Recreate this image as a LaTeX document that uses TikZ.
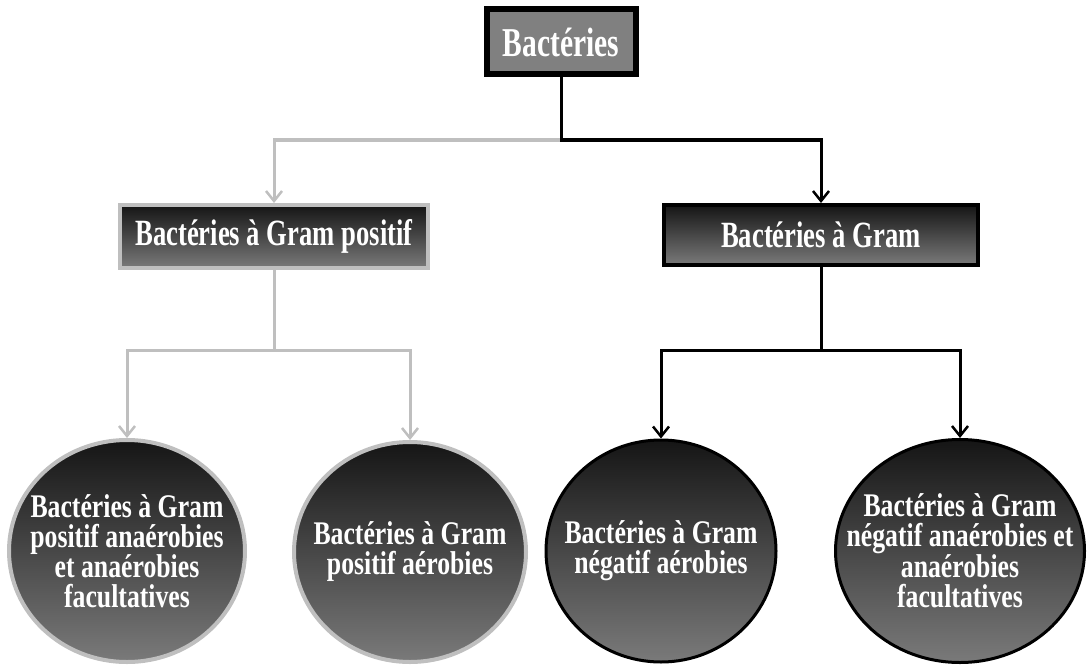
\documentclass[tikz,border=0pt]{standalone}
\usepackage{fontspec}
\newfontfamily\lblfont[FakeStretch=0.72]{Liberation Serif}
\newfontfamily\leaffont[FakeStretch=0.78]{Liberation Serif}
\usetikzlibrary{arrows.meta,shapes.geometric}

\definecolor{linegray}{HTML}{BFBFBF}
\definecolor{rootfill}{HTML}{808080}
\definecolor{shadetop}{HTML}{151515}
\definecolor{shadebot}{HTML}{7A7A7A}

\begin{document}
\begin{tikzpicture}[
    x=1pt, y=-1pt,
    gline/.style={line width=3pt, linegray},
    kline/.style={line width=3pt, black},
    garr/.style={gline, -{Straight Barb[length=10pt,width=16pt,line width=2.5pt]}},
    karr/.style={kline, -{Straight Barb[length=10pt,width=16pt,line width=2.5pt]}},
    lbl/.style={text=white, align=center, inner sep=0pt,
        font=\leaffont\bfseries\fontsize{33}{30}\selectfont},
    rootbox/.style={rectangle, draw=black, line width=6pt, fill=rootfill,
        minimum width=149pt, minimum height=65pt, text=white,
        font=\lblfont\bfseries\fontsize{41}{44}\selectfont},
    gbox/.style={rectangle, draw=linegray, line width=4pt, top color=shadetop,
        bottom color=shadebot, minimum height=63pt, text=white,
        font=\lblfont\bfseries\fontsize{37}{40}\selectfont},
    kbox/.style={gbox, draw=black},
    gleaf/.style={ellipse, draw=linegray, line width=4pt, top color=shadetop,
        bottom color=shadebot, inner sep=0pt},
    kleaf/.style={gleaf, draw=black, line width=3pt},
]

\useasboundingbox (0,0) rectangle (1089,666);

\def\rowA{140}
\def\rowB{350}

% Root
\node[rootbox] (bact) at (561,42) {Bactéries};

% Second level
\node[gbox, minimum width=308pt] (gpos) at (274,236.5) {Bactéries à Gram positif};
\node[kbox, minimum width=314pt, minimum height=60pt] (gneg) at (821,235) {Bactéries à Gram};

% Leaves
\node[gleaf, minimum width=236pt, minimum height=222pt] (posana) at (127,551) {};
\node[gleaf, minimum width=232pt, minimum height=220pt] (posaer) at (410,552) {};
\node[kleaf, minimum width=230pt, minimum height=222pt] (negaer) at (661,551) {};
\node[kleaf, minimum width=249pt, minimum height=223pt] (negana) at (960,551) {};

% Leaf texts
\node[lbl] (posanatxt) at (posana) {Bactéries à Gram\\positif anaérobies\\et anaérobies\\facultatives};
\node[lbl] (posaertxt) at (posaer) {Bactéries à Gram\\positif aérobies};
\node[lbl] (negaertxt) at (negaer) {Bactéries à Gram\\négatif aérobies};
\node[lbl] (neganatxt) at (negana) {Bactéries à Gram\\négatif anaérobies et\\anaérobies\\facultatives};

% Junctions
\coordinate (jroot) at (bact.south |- 0,\rowA);
\coordinate (jpos) at (gpos.south |- 0,\rowB);
\coordinate (jneg) at (gneg.south |- 0,\rowB);

% Connectors
\draw[garr] (jroot) -| (gpos);
\draw[karr] (bact) -- (jroot) -| (gneg);

\draw[gline] (gpos) -- (jpos);
\draw[garr] (jpos) -| (posana);
\draw[garr] (jpos) -| (posaer);

\draw[kline] (gneg) -- (jneg);
\draw[karr] (jneg) -| (negaer);
\draw[karr] (jneg) -| (negana);

\end{tikzpicture}
\end{document}
